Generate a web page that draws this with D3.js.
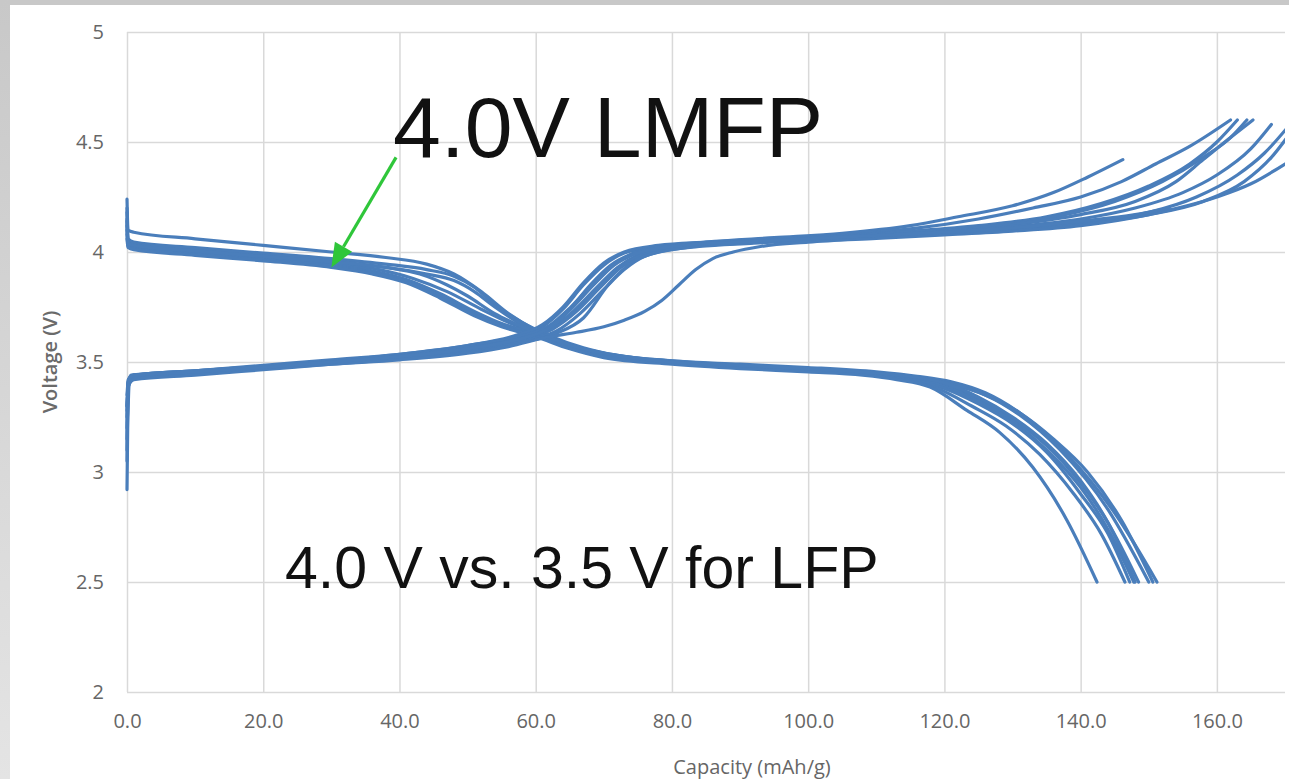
<!DOCTYPE html>
<html><head><meta charset="utf-8">
<script src="https://cdn.jsdelivr.net/npm/d3@7"></script>
<style>html,body{margin:0;padding:0;background:#fff;overflow:hidden}</style>
</head><body>
<svg id="c" width="1289" height="779"></svg>
<script>
// ---------- data ----------
const xTicks = [0, 20, 40, 60, 80, 100, 120, 140, 160];
const yTicks = [2, 2.5, 3, 3.5, 4, 4.5, 5];
const xTitle = "Capacity (mAh/g)";
const yTitle = "Voltage (V)";
const title1 = "4.0V LMFP";
const title2 = "4.0 V vs. 3.5 V for LFP";

// charge curves  [capacity mAh/g, voltage V]
const charge1 = [[0,3.05],[0.15,3.38],[0.6,3.43],[10,3.455],[20,3.48],[30,3.505],[40,3.535],[50,3.575],[57,3.615],[61,3.66],[64,3.74],[67,3.85],[70,3.94],[73,3.995],[78,4.025],[85,4.045],[95,4.065],[105,4.085],[115,4.12],[122,4.16],[130,4.21],[136,4.27],[141,4.34],[146.2,4.42]];
const charge2 = [[0,3.2],[0.15,3.4],[0.6,3.44],[10,3.46],[20,3.485],[30,3.51],[40,3.535],[50,3.575],[57,3.62],[61,3.67],[64,3.75],[67,3.86],[70,3.95],[73,4.0],[78,4.03],[85,4.045],[95,4.06],[105,4.08],[115,4.105],[125,4.15],[133,4.2],[140,4.25],[146,4.32],[151,4.4],[156,4.48],[162,4.6]];
const charge3 = [[0,2.92],[0.1,3.2],[0.4,3.41],[2,3.435],[10,3.455],[20,3.475],[30,3.5],[40,3.53],[50,3.565],[57,3.605],[62,3.66],[65,3.74],[68,3.85],[71,3.94],[74,3.99],[79,4.025],[86,4.045],[95,4.06],[105,4.075],[115,4.095],[125,4.12],[135,4.16],[143,4.22],[150,4.3],[156,4.4],[160,4.5],[163,4.6]];
const charge4 = [[0,3.3],[0.2,3.42],[1,3.44],[10,3.46],[20,3.48],[30,3.505],[40,3.53],[50,3.57],[57,3.61],[62,3.665],[65,3.745],[68.5,3.86],[71.5,3.945],[74.5,3.995],[80,4.03],[88,4.045],[97,4.06],[107,4.075],[117,4.095],[127,4.12],[137,4.165],[145,4.23],[152,4.32],[158,4.43],[162,4.52],[164.4,4.6]];
const charge5 = [[0,3.25],[0.2,3.41],[1,3.435],[10,3.455],[20,3.475],[30,3.5],[40,3.525],[50,3.565],[57,3.6],[62,3.65],[65.5,3.73],[69,3.84],[72,3.93],[75,3.985],[81,4.025],[90,4.045],[100,4.06],[110,4.075],[120,4.095],[130,4.125],[140,4.17],[148,4.23],[154,4.32],[158,4.42],[162,4.52],[165.3,4.6]];
const charge6 = [[0,3.35],[0.2,3.42],[1,3.44],[10,3.46],[20,3.48],[30,3.5],[40,3.525],[50,3.56],[57,3.6],[62.5,3.65],[66,3.73],[69.5,3.84],[72.5,3.93],[75.5,3.985],[81,4.02],[90,4.04],[100,4.055],[110,4.07],[120,4.09],[130,4.115],[140,4.15],[148,4.2],[155,4.27],[160,4.35],[165,4.47],[168,4.58]];
const charge7 = [[0,3.1],[0.15,3.38],[0.8,3.43],[10,3.45],[20,3.47],[30,3.495],[40,3.52],[50,3.555],[57,3.59],[63,3.64],[66.5,3.72],[70,3.83],[73,3.92],[76,3.98],[82,4.02],[90,4.04],[100,4.055],[110,4.07],[120,4.085],[130,4.105],[140,4.135],[150,4.18],[157,4.25],[163,4.35],[167,4.45],[171,4.59]];
const charge8 = [[0,3.28],[0.2,3.4],[1,3.43],[10,3.45],[20,3.47],[30,3.49],[40,3.515],[50,3.55],[57,3.585],[63,3.63],[67,3.7],[70.9,3.86],[74,3.95],[78,4.0],[84,4.025],[92,4.04],[100,4.055],[110,4.07],[120,4.085],[130,4.105],[140,4.13],[150,4.17],[158,4.23],[164,4.32],[168,4.43],[171,4.55]];
const charge9 = [[0,3.15],[0.2,3.39],[1,3.42],[10,3.44],[20,3.465],[30,3.49],[40,3.51],[50,3.54],[56,3.57],[62,3.615],[66,3.635],[70,3.66],[73,3.69],[76,3.73],[78.5,3.78],[81,3.85],[83.5,3.92],[86,3.97],[89,4.0],[93,4.025],[100,4.045],[110,4.062],[120,4.078],[130,4.095],[140,4.12],[150,4.17],[160,4.25],[165,4.31],[170,4.40]];
const charge10 = [[0,3.3],[0.2,3.41],[1,3.44],[10,3.455],[20,3.475],[30,3.5],[40,3.525],[50,3.56],[57,3.6],[62,3.655],[65,3.735],[68.5,3.85],[71.5,3.94],[74.5,3.99],[80,4.025],[90,4.045],[100,4.06],[110,4.075],[120,4.09],[130,4.11],[140,4.14],[148,4.17],[153,4.2]];

// discharge curves
const discharge1 = [[0,4.24],[0.15,4.1],[1,4.09],[10,4.06],[20,4.03],[30,4.0],[38,3.975],[44,3.945],[48,3.9],[52,3.82],[56,3.72],[60,3.645],[65,3.58],[70,3.54],[80,3.505],[90,3.485],[100,3.47],[110,3.45],[116,3.43],[121,3.4],[126,3.35],[131,3.27],[136,3.15],[141,3.0],[146,2.78],[150.6,2.5]];
const discharge2 = [[0,4.2],[0.15,4.06],[1,4.045],[10,4.02],[20,3.995],[30,3.97],[38,3.945],[44,3.92],[48,3.89],[51,3.84],[54,3.76],[58,3.68],[62,3.62],[67,3.565],[72,3.53],[80,3.505],[90,3.49],[100,3.475],[110,3.455],[116,3.435],[121,3.41],[126,3.36],[131,3.27],[138,3.08],[145.3,2.8],[151.2,2.5]];
const discharge3 = [[0,4.18],[0.15,4.05],[1,4.04],[10,4.015],[20,3.99],[30,3.96],[38,3.93],[44,3.9],[48,3.87],[51,3.82],[54,3.75],[58,3.67],[62,3.615],[67,3.56],[72,3.525],[80,3.5],[90,3.485],[100,3.47],[110,3.45],[116,3.43],[121,3.4],[126,3.35],[131,3.26],[137,3.1],[144,2.83],[150,2.5]];
const discharge4 = [[0,4.15],[0.15,4.04],[1,4.03],[10,4.005],[20,3.98],[30,3.95],[37,3.92],[42,3.88],[47,3.82],[52,3.74],[56,3.68],[60,3.635],[65,3.575],[70,3.535],[80,3.5],[90,3.48],[100,3.465],[110,3.445],[115,3.43],[120,3.395],[125,3.33],[130,3.24],[135,3.12],[140,2.95],[144,2.77],[148.5,2.5]];
const discharge5 = [[0,4.12],[0.15,4.035],[1,4.025],[10,4.0],[20,3.975],[30,3.945],[36,3.915],[41,3.875],[46,3.81],[51,3.73],[55,3.675],[60,3.63],[65,3.57],[70,3.53],[80,3.5],[90,3.48],[100,3.465],[110,3.445],[115,3.425],[120,3.39],[125,3.32],[130,3.23],[135,3.1],[140,2.93],[144,2.74],[147.8,2.5]];
const discharge6 = [[0,4.1],[0.15,4.03],[1,4.02],[10,3.995],[20,3.97],[30,3.94],[36,3.91],[41,3.87],[46,3.8],[51,3.72],[55,3.67],[60,3.625],[65,3.565],[70,3.525],[80,3.495],[90,3.475],[100,3.46],[110,3.44],[114,3.425],[120,3.38],[125,3.31],[130,3.22],[135,3.09],[140,2.9],[144,2.72],[147.2,2.5]];
const discharge7 = [[0,4.08],[0.15,4.025],[1,4.015],[10,3.99],[20,3.965],[30,3.935],[36,3.905],[41,3.865],[46,3.8],[51,3.72],[55,3.665],[60,3.62],[65,3.565],[70,3.525],[80,3.495],[90,3.475],[100,3.46],[110,3.44],[114,3.42],[119,3.38],[124,3.3],[129,3.21],[134,3.08],[139,2.9],[143,2.72],[146.5,2.5]];
const discharge8 = [[0,4.06],[0.15,4.02],[1,4.01],[10,3.985],[20,3.96],[30,3.93],[36,3.9],[41,3.86],[46,3.79],[51,3.71],[55,3.66],[60,3.615],[65,3.56],[70,3.52],[80,3.49],[90,3.47],[100,3.455],[108,3.44],[113,3.42],[117.9,3.386],[123.3,3.28],[128.1,3.18],[133,3.02],[138,2.78],[142.4,2.5]];
const discharge9 = [[0,4.14],[0.15,4.04],[1,4.03],[10,4.005],[20,3.98],[30,3.955],[38,3.93],[43,3.9],[47,3.85],[50,3.8],[54,3.72],[58,3.66],[62,3.61],[67,3.56],[72,3.53],[80,3.5],[90,3.485],[100,3.47],[110,3.45],[115,3.435],[120,3.405],[125,3.34],[130,3.25],[135,3.13],[140,2.96],[144,2.77],[148,2.5]];

const chargeCurves = [charge1, charge2, charge3, charge4, charge5, charge6, charge7, charge8, charge9, charge10];
const dischargeCurves = [discharge1, discharge2, discharge3, discharge4, discharge5, discharge6, discharge7, discharge8, discharge9];

// arrow annotation (data coordinates): from -> to
const arrowFrom = [39.5, 4.43];
const arrowTo = [30, 3.93];

// ---------- drawing ----------
const W = 1289, H = 779;
const svg = d3.select("#c");
const defs = svg.append("defs");

const g0 = defs.append("linearGradient").attr("id","lg").attr("x1",0).attr("y1",0).attr("x2",0).attr("y2",1);
g0.append("stop").attr("offset","0").attr("stop-color","#c8c8c8");
g0.append("stop").attr("offset","1").attr("stop-color","#e4e4e4");

svg.append("rect").attr("x",0).attr("y",0).attr("width",W).attr("height",H).attr("fill","#fff");
svg.append("rect").attr("x",0).attr("y",0).attr("width",W).attr("height",5).attr("fill","#c8c8c8");
svg.append("rect").attr("x",0).attr("y",0).attr("width",10).attr("height",H).attr("fill","url(#lg)");

const x = d3.scaleLinear().domain([0,170]).range([127,1285]);
const y = d3.scaleLinear().domain([2,5]).range([692,32]);

const font = "'Open Sans', 'Noto Sans', sans-serif";

// gridlines
const gx = svg.append("g").attr("transform",`translate(0,${y(2)})`)
  .call(d3.axisBottom(x).tickValues(xTicks).tickSize(-(y(2)-y(5))).tickFormat(""));
gx.select(".domain").remove();
gx.selectAll("line").attr("stroke","#d9d9d9").attr("stroke-width",1.5);

const gy = svg.append("g").attr("transform",`translate(${x(0)},0)`)
  .call(d3.axisLeft(y).tickValues(yTicks).tickSize(-(x(170)-x(0))).tickFormat(""));
gy.select(".domain").remove();
gy.selectAll("line").attr("stroke","#d9d9d9").attr("stroke-width",1.5);

// axis labels
const ax = svg.append("g").attr("transform",`translate(0,${y(2)})`)
  .call(d3.axisBottom(x).tickValues(xTicks).tickSize(0).tickPadding(22).tickFormat(d3.format(".1f")));
ax.select(".domain").remove();
ax.selectAll("text").attr("font-family",font).attr("font-size",20).attr("fill","#666");

const ay = svg.append("g").attr("transform",`translate(${x(0)},0)`)
  .call(d3.axisLeft(y).tickValues(yTicks).tickSize(0).tickPadding(23).tickFormat(d3.format("")));
ay.select(".domain").remove();
ay.selectAll("text").attr("font-family",font).attr("font-size",20).attr("fill","#666");

svg.append("text").attr("x",752).attr("y",774).attr("text-anchor","middle")
  .attr("font-family",font).attr("font-size",20).attr("fill","#666").text(xTitle);
svg.append("text").attr("transform","translate(57,362) rotate(-90)").attr("text-anchor","middle")
  .attr("font-family",font).attr("font-size",20).attr("font-weight",600).attr("fill","#6a6a6a").text(yTitle);

// curves
defs.append("clipPath").attr("id","clip").append("rect")
  .attr("x",x(0)-4).attr("y",y(5)).attr("width",x(170)-x(0)+4).attr("height",y(2)-y(5));
const line = d3.line().x(d=>x(d[0])).y(d=>y(d[1])).curve(d3.curveMonotoneX);
const cg = svg.append("g").attr("clip-path","url(#clip)");
cg.selectAll("path.dis").data(dischargeCurves).join("path").attr("class","dis")
  .attr("d",line).attr("fill","none").attr("stroke","#4a7ebb").attr("stroke-width",3.2)
  .attr("stroke-linejoin","round").attr("stroke-linecap","round");
cg.selectAll("path.chg").data(chargeCurves).join("path").attr("class","chg")
  .attr("d",line).attr("fill","none").attr("stroke","#4a7ebb").attr("stroke-width",3.2)
  .attr("stroke-linejoin","round").attr("stroke-linecap","round");

// annotations
svg.append("text").attr("x",393).attr("y",157).attr("font-family","'Liberation Sans', Arial, sans-serif")
  .attr("font-size",86).attr("fill","#111").text(title1);
svg.append("text").attr("x",285).attr("y",588).attr("font-family","'Liberation Sans', Arial, sans-serif")
  .attr("font-size",59).attr("fill","#111").text(title2);

// green arrow
const ax0 = x(arrowFrom[0]), ay0 = y(arrowFrom[1]), ax1 = x(arrowTo[0]), ay1 = y(arrowTo[1]);
const ang = Math.atan2(ay1-ay0, ax1-ax0);
const headL = 24, headW = 10;
const bx = ax1 - headL*Math.cos(ang), by = ay1 - headL*Math.sin(ang);
svg.append("line").attr("x1",ax0).attr("y1",ay0).attr("x2",bx).attr("y2",by)
  .attr("stroke","#2fc63a").attr("stroke-width",3.2);
svg.append("path").attr("d",`M${ax1},${ay1} L${bx+headW*Math.sin(ang)},${by-headW*Math.cos(ang)} L${bx-headW*Math.sin(ang)},${by+headW*Math.cos(ang)} Z`)
  .attr("fill","#2fc63a");
</script>
</body></html>
